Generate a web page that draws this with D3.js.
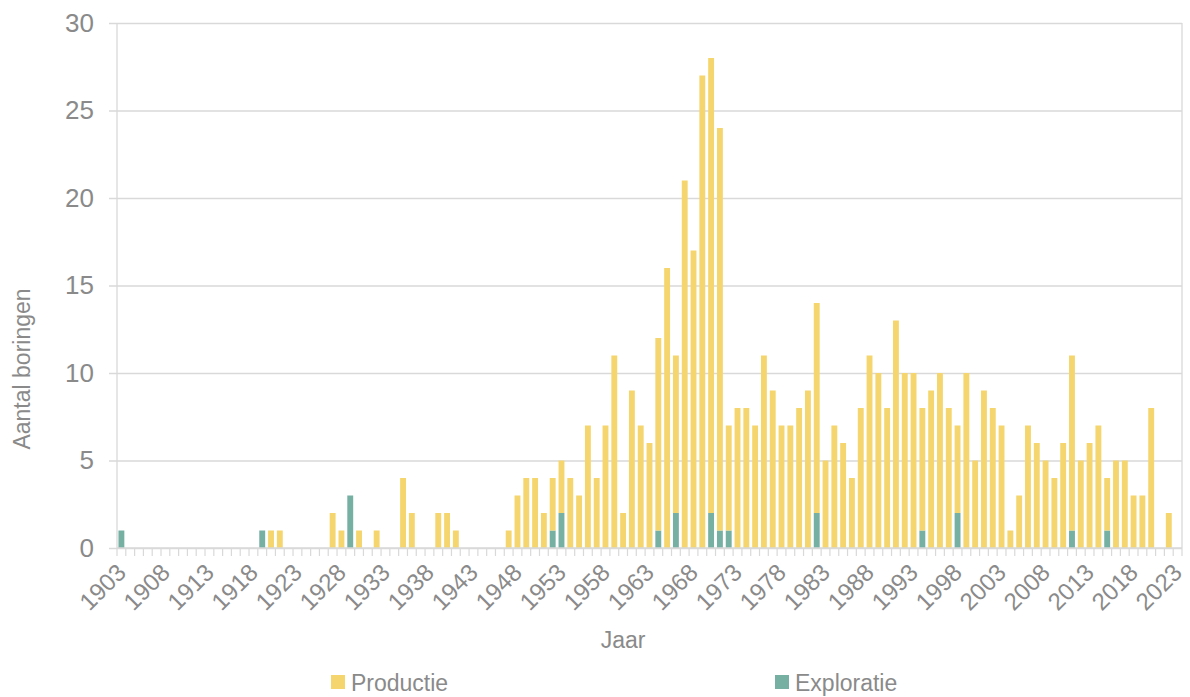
<!DOCTYPE html>
<html lang="nl">
<head>
<meta charset="utf-8">
<title>Aantal boringen per jaar</title>
<script src="https://cdn.jsdelivr.net/npm/d3@7"></script>
<style>
  body { margin: 0; background: #fff; }
  svg text { font-family: "Liberation Sans", Arial, sans-serif; fill: #8a8a8a; }
</style>
</head>
<body>
<div id="chart"></div>
<script>
// categories: one bar per year
var years = d3.range(1903, 2024)

// number of production wells per year (1903..2023)
var productie = [
  0,0,0,0,0,0,0,0,0,0,
  0,0,0,0,0,0,0,1,1,0,
  0,0,0,0,2,1,0,1,0,1,
  0,0,4,2,0,0,2,2,1,0,
  0,0,0,0,1,3,4,4,2,3,
  3,4,3,7,4,7,11,2,9,7,
  6,11,16,9,21,17,27,26,23,6,
  8,8,7,11,9,7,7,8,9,12,
  5,7,6,4,8,11,10,8,13,10,
  10,7,9,10,8,5,10,5,9,8,
  7,1,3,7,6,5,4,6,10,5,
  6,7,3,5,5,3,3,8,0,2,
  0
]

// number of exploration wells per year (1903..2023)
var exploratie = [
  1,0,0,0,0,0,0,0,0,0,
  0,0,0,0,0,0,1,0,0,0,
  0,0,0,0,0,0,3,0,0,0,
  0,0,0,0,0,0,0,0,0,0,
  0,0,0,0,0,0,0,0,0,1,
  2,0,0,0,0,0,0,0,0,0,
  0,1,0,2,0,0,0,2,1,1,
  0,0,0,0,0,0,0,0,0,2,
  0,0,0,0,0,0,0,0,0,0,
  0,1,0,0,0,2,0,0,0,0,
  0,0,0,0,0,0,0,0,1,0,
  0,0,1,0,0,0,0,0,0,0,
  0
]

var yTicks = [0, 5, 10, 15, 20, 25, 30]
var labelYears = years.filter(function(y){ return (y - 1903) % 5 === 0 })

var colors = { Productie: "#f5d66e", Exploratie: "#76b0a3" }

var w = 1190
var h = 697
var plotLeft = 117, plotRight = 1182, plotTop = 23, plotBottom = 548
var fs = "23px"

var svg = d3.select("#chart")
  .append("svg")
  .attr("width", w)
  .attr("height", h)

var table = years.map(function(y, i){
  return { year: y, Exploratie: exploratie[i], Productie: productie[i] }
})

var series = d3.stack().keys(["Exploratie", "Productie"])(table)

var xScale = d3.scaleBand()
  .domain(years)
  .range([plotLeft, plotRight])
  .paddingInner(0.33)
  .paddingOuter(0.165)

var yScale = d3.scaleLinear()
  .domain([0, 30])
  .range([plotBottom, plotTop])

// gridlines + y labels
var yAxis = d3.axisLeft(yScale)
  .tickValues(yTicks)
  .tickSize(-(plotRight - plotLeft) - 8)
  .tickPadding(15)

var gyl = svg.append("g")
  .attr("transform", "translate(" + (plotLeft - 8) + ",0)")
  .call(yAxis)
gyl.select(".domain").remove()
gyl.selectAll(".tick line").attr("stroke", "#d9d9d9").attr("stroke-width", 1.3)
gyl.selectAll(".tick text")
  .attr("font-family", null)
  .attr("font-size", null)
  .attr("fill", null)
  .style("font-size", "26px")

// frame lines left and right
svg.selectAll("line.frame")
  .data([plotLeft, plotRight])
  .enter()
  .append("line")
  .attr("class", "frame")
  .attr("x1", function(d){ return d }).attr("x2", function(d){ return d })
  .attr("y1", plotTop).attr("y2", plotBottom)
  .attr("stroke", "#d9d9d9").attr("stroke-width", 1.3)

// bars
svg.append("g")
  .selectAll("g")
  .data(series)
  .enter()
  .append("g")
  .attr("fill", function(d){ return colors[d.key] })
  .selectAll("rect")
  .data(function(d){ return d })
  .enter()
  .append("rect")
  .attr("x", function(d){ return xScale(d.data.year) })
  .attr("width", xScale.bandwidth())
  .attr("y", function(d){ return yScale(d[1]) })
  .attr("height", function(d){ return yScale(d[0]) - yScale(d[1]) })

// x axis: baseline, ticks between categories, labels every 5 years
var gap = (xScale.step() - xScale.bandwidth()) / 2
var bounds = years.map(function(y){ return xScale(y) - gap })
bounds.push(plotRight)

var gx = svg.append("g")
gx.append("line")
  .attr("x1", plotLeft).attr("x2", plotRight)
  .attr("y1", plotBottom).attr("y2", plotBottom)
  .attr("stroke", "#d9d9d9").attr("stroke-width", 1.5)
gx.selectAll("line.tk")
  .data(bounds)
  .enter()
  .append("line")
  .attr("class", "tk")
  .attr("x1", function(d){ return d }).attr("x2", function(d){ return d })
  .attr("y1", plotBottom).attr("y2", plotBottom + 8)
  .attr("stroke", "#d9d9d9").attr("stroke-width", 1.2)

gx.selectAll("text")
  .data(labelYears)
  .enter()
  .append("text")
  .attr("transform", function(d){
    var cx = xScale(d) + xScale.bandwidth() / 2
    return "translate(" + cx + "," + (plotBottom + 20) + ") rotate(-45)"
  })
  .attr("text-anchor", "end")
  .attr("dy", "0.35em")
  .style("font-size", "24px")
  .text(function(d){ return d })

// axis titles
svg.append("text")
  .attr("transform", "translate(30,369) rotate(-90)")
  .attr("text-anchor", "middle")
  .style("font-size", fs)
  .text("Aantal boringen")

svg.append("text")
  .attr("x", 623)
  .attr("y", 648)
  .attr("text-anchor", "middle")
  .style("font-size", fs)
  .text("Jaar")

// legend
var legend = [
  { key: "Productie", x: 331 },
  { key: "Exploratie", x: 775 }
]
var lg = svg.selectAll("g.legend")
  .data(legend)
  .enter()
  .append("g")
  .attr("class", "legend")
  .attr("transform", function(d){ return "translate(" + d.x + ",675)" })
lg.append("rect")
  .attr("width", 14).attr("height", 14)
  .attr("fill", function(d){ return colors[d.key] })
lg.append("text")
  .attr("x", 20)
  .attr("y", 16)
  .style("font-size", fs)
  .text(function(d){ return d.key })
</script>
</body>
</html>
